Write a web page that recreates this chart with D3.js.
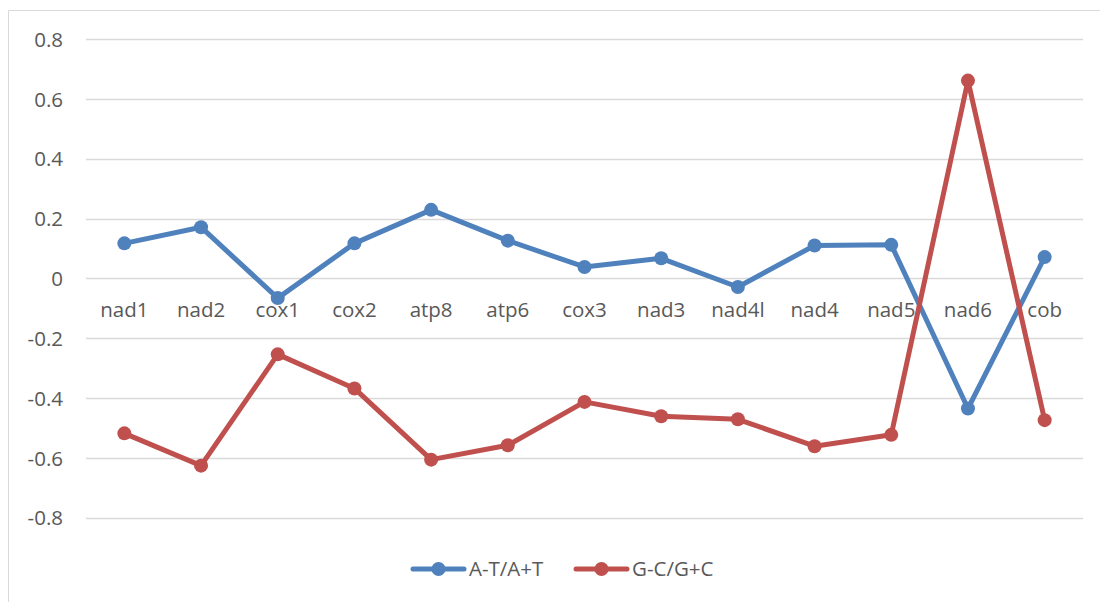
<!DOCTYPE html>
<html><head><meta charset="utf-8">
<script src="https://cdn.jsdelivr.net/npm/d3@7"></script>
<style>body{margin:0;background:#fff}svg{display:block}</style>
</head><body>
<script>
const categories = ["nad1","nad2","cox1","cox2","atp8","atp6","cox3","nad3","nad4l","nad4","nad5","nad6","cob"];
const atSkew = [0.117,0.171,-0.066,0.117,0.229,0.126,0.038,0.067,-0.029,0.110,0.112,-0.435,0.071];
const gcSkew = [-0.518,-0.626,-0.254,-0.368,-0.606,-0.558,-0.413,-0.461,-0.471,-0.561,-0.523,0.661,-0.474];
const yTicks = [-0.8,-0.6,-0.4,-0.2,0,0.2,0.4,0.6,0.8];
const seriesNames = ["A-T/A+T","G-C/G+C"];
const colors = ["#4F81BD","#C0504D"];

const W=1100,H=602;
const svg=d3.select("body").append("svg").attr("width",W).attr("height",H);
const font="'Open Sans','Liberation Sans',sans-serif";
const fs=20.5;
// chart border
svg.append("path").attr("d","M8.5,602 V10.5 H1100").attr("fill","none").attr("stroke","#d9d9d9").attr("stroke-width",1);

const x=d3.scaleBand().domain(categories).range([86,1083]);
const y=d3.scaleLinear().domain([-0.8,0.8]).range([517.7,39]);

// gridlines
svg.append("g").selectAll("line").data(yTicks).join("line")
  .attr("x1",86).attr("x2",1083).attr("y1",d=>Math.round(y(d))+0.5).attr("y2",d=>Math.round(y(d))+0.5)
  .attr("stroke","#d9d9d9").attr("stroke-width",1.3);

// y axis labels
const yAxis=d3.axisLeft(y).tickValues(yTicks).tickSize(0).tickPadding(0).tickFormat(d=>String(d));
const gy=svg.append("g").attr("transform","translate(63,0)").call(yAxis);
gy.select(".domain").remove();
gy.selectAll("text").attr("font-family",font).attr("font-size",fs).attr("fill","#595959").attr("dy","0.35em");

// x axis labels at zero crossing
const xAxis=d3.axisBottom(x).tickSize(0).tickPadding(0);
const gx=svg.append("g").attr("transform",`translate(0,${y(0)})`).call(xAxis);
gx.select(".domain").remove();
gx.selectAll("text").attr("font-family",font).attr("font-size",fs).attr("fill","#595959").attr("dy",0).attr("y",39);

const line=d3.line().x((d,i)=>x(categories[i])+x.bandwidth()/2).y(d=>y(d));
[atSkew,gcSkew].forEach((s,k)=>{
  const g=svg.append("g");
  g.append("path").datum(s).attr("d",line).attr("fill","none").attr("stroke",colors[k]).attr("stroke-width",5).attr("stroke-linejoin","round");
  g.selectAll("circle").data(s).join("circle")
    .attr("cx",(d,i)=>x(categories[i])+x.bandwidth()/2).attr("cy",d=>y(d)).attr("r",7).attr("fill",colors[k]);
});

// legend
const legX=[411,574], legY=569;
seriesNames.forEach((n,k)=>{
  const g=svg.append("g");
  g.append("line").attr("x1",legX[k]+2).attr("x2",legX[k]+53).attr("y1",legY).attr("y2",legY)
    .attr("stroke",colors[k]).attr("stroke-width",5).attr("stroke-linecap","round");
  g.append("circle").attr("cx",legX[k]+27.5).attr("cy",legY).attr("r",7).attr("fill",colors[k]);
  g.append("text").attr("x",legX[k]+58).attr("y",legY).attr("dy","0.35em").text(n)
    .attr("font-family",font).attr("font-size",fs).attr("fill","#595959");
});
</script>
</body></html>
